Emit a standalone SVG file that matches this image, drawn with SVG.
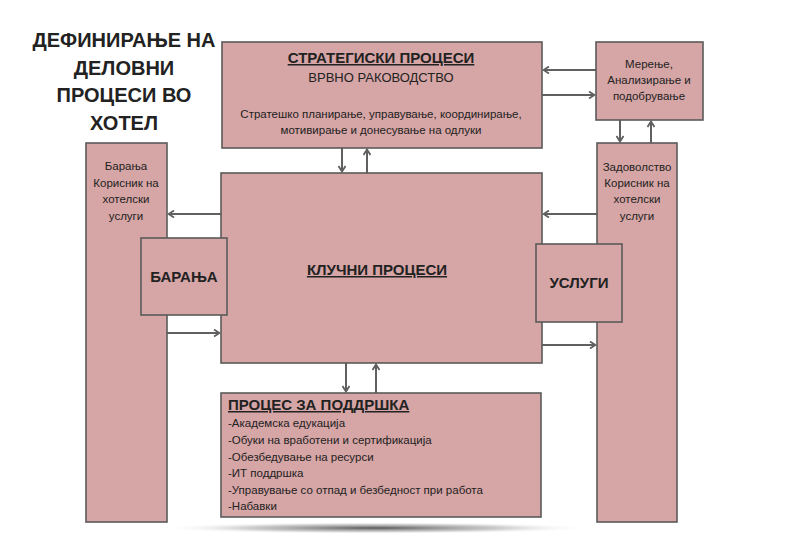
<svg xmlns="http://www.w3.org/2000/svg" width="800" height="541" viewBox="0 0 800 541">
<defs>
<marker id="ah" markerWidth="8" markerHeight="8" refX="6" refY="4" orient="auto" markerUnits="userSpaceOnUse">
<path d="M1,0.5 L6.5,4 L1,7.5" fill="none" stroke="#606060" stroke-width="1.8"/>
</marker>
<radialGradient id="sh" cx="0.5" cy="0.5" r="0.5">
<stop offset="0" stop-color="#444" stop-opacity="0.9"/>
<stop offset="0.6" stop-color="#888" stop-opacity="0.4"/>
<stop offset="1" stop-color="#fff" stop-opacity="0"/>
</radialGradient>
</defs>
<style>
.box{fill:#d6a5a5;stroke:#5a5a5a;stroke-width:1.6}
.t{font-family:"Liberation Sans",Arial,sans-serif;fill:#222}
.s{font-size:11.5px}
.b{font-weight:bold}
.c{text-anchor:middle}
.u{text-decoration:underline}
.con{stroke:#606060;stroke-width:2;fill:none}
</style>
<rect width="800" height="541" fill="#fff"/>
<ellipse cx="375" cy="528" rx="215" ry="6" fill="url(#sh)"/>

<g id="title">
<text class="t b c" x="124" y="47" font-size="20">ДЕФИНИРАЊЕ НА</text>
<text class="t b c" x="124" y="75" font-size="20">ДЕЛОВНИ</text>
<text class="t b c" x="124" y="102" font-size="20">ПРОЦЕСИ ВО</text>
<text class="t b c" x="124" y="130" font-size="20">ХОТЕЛ</text>
</g>

<g id="connectors">
<line class="con" x1="596" y1="70" x2="544" y2="70" marker-end="url(#ah)"/>
<line class="con" x1="542" y1="95" x2="594" y2="95" marker-end="url(#ah)"/>
<line class="con" x1="620" y1="120" x2="620" y2="141" marker-end="url(#ah)"/>
<line class="con" x1="651" y1="143" x2="651" y2="122" marker-end="url(#ah)"/>
<line class="con" x1="342" y1="148" x2="342" y2="171" marker-end="url(#ah)"/>
<line class="con" x1="367" y1="173" x2="367" y2="150" marker-end="url(#ah)"/>
<line class="con" x1="221" y1="214" x2="169" y2="214" marker-end="url(#ah)"/>
<line class="con" x1="167" y1="333" x2="219" y2="333" marker-end="url(#ah)"/>
<line class="con" x1="597" y1="214" x2="544" y2="214" marker-end="url(#ah)"/>
<line class="con" x1="542" y1="345" x2="595" y2="345" marker-end="url(#ah)"/>
<line class="con" x1="346" y1="363" x2="346" y2="391" marker-end="url(#ah)"/>
<line class="con" x1="376" y1="393" x2="376" y2="365" marker-end="url(#ah)"/>
</g>

<g id="strategic">
<rect class="box" x="222" y="42" width="320" height="106"/>
<text class="t b c u" x="381" y="63" font-size="15">СТРАТЕГИСКИ ПРОЦЕСИ</text>
<text class="t c" x="381" y="82" font-size="13">ВРВНО РАКОВОДСТВО</text>
<text class="t s c" x="381" y="118">Стратешко планирање, управување, координирање,</text>
<text class="t s c" x="381" y="134">мотивирање и донесување на одлуки</text>
</g>

<g id="measure">
<rect class="box" x="596" y="42" width="107" height="78"/>
<text class="t s c" x="649" y="68">Мерење,</text>
<text class="t s c" x="649" y="84">Анализирање и</text>
<text class="t s c" x="649" y="100">подобрување</text>
</g>

<g id="requests-col">
<rect class="box" x="86" y="143" width="81" height="379"/>
<text class="t s c" x="126" y="170">Барања</text>
<text class="t s c" x="126" y="187">Корисник на</text>
<text class="t s c" x="126" y="203">хотелски</text>
<text class="t s c" x="126" y="220">услуги</text>
</g>

<g id="satisfaction-col">
<rect class="box" x="597" y="143" width="80" height="379"/>
<text class="t s c" x="637" y="171">Задоволство</text>
<text class="t s c" x="637" y="187">Корисник на</text>
<text class="t s c" x="637" y="203">хотелски</text>
<text class="t s c" x="637" y="220">услуги</text>
</g>

<g id="core">
<rect class="box" x="221" y="173" width="321" height="190"/>
<text class="t b c u" x="377" y="275" font-size="15">КЛУЧНИ ПРОЦЕСИ</text>
</g>

<g id="requests">
<rect class="box" x="141" y="238" width="86" height="77"/>
<text class="t b c" x="184" y="282" font-size="15">БАРАЊА</text>
</g>

<g id="services">
<rect class="box" x="536" y="244" width="86" height="78"/>
<text class="t b c" x="579" y="288" font-size="15">УСЛУГИ</text>
</g>

<g id="support">
<rect class="box" x="221" y="393" width="320" height="124"/>
<text class="t b u" x="228" y="410" font-size="15">ПРОЦЕС ЗА ПОДДРШКА</text>
<text class="t s" x="228" y="427">-Академска едукација</text>
<text class="t s" x="228" y="444">-Обуки на вработени и сертификација</text>
<text class="t s" x="228" y="461">-Обезбедување на ресурси</text>
<text class="t s" x="228" y="477">-ИТ поддршка</text>
<text class="t s" x="228" y="494">-Управување со отпад и безбедност при работа</text>
<text class="t s" x="228" y="510">-Набавки</text>
</g>
</svg>
